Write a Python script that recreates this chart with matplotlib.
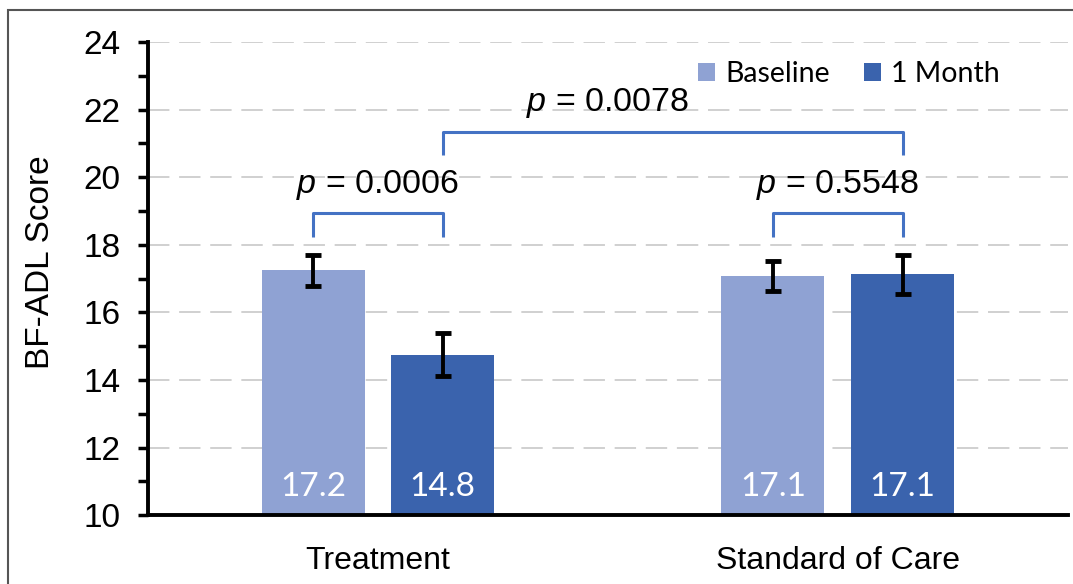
# Bar chart of BF-ADL score: baseline vs 1 month, per group, with p-value brackets

import matplotlib
matplotlib.use("Agg")
import matplotlib.pyplot as plt
import numpy as np

# Data
groups = ["Treatment", "Standard of Care"]
series_names = ["Baseline", "1 Month"]
baseline_vals = [17.24, 17.07]
month_vals = [14.75, 17.13]
baseline_err = [0.47, 0.45]
month_err = [0.64, 0.58]
value_labels = [["17.2", "17.1"], ["14.8", "17.1"]]

# p-value annotations
p_within = ["0.0006", "0.5548"]
p_between = "0.0078"

# Styles
color_base = "#8FA2D3"
color_month = "#3A63AD"
color_bracket = "#4472C4"

plt.rcParams["font.family"] = ["Liberation Sans", "DejaVu Sans"]
plt.rcParams["mathtext.fontset"] = "custom"
plt.rcParams["mathtext.it"] = "Liberation Sans:italic"
plt.rcParams["mathtext.rm"] = "Liberation Sans"

fig = plt.figure(figsize=(10.73, 5.84), dpi=100)
ax = fig.add_axes([0.138, 0.118, 0.857, 0.810])

x = np.arange(len(groups))
width = 0.224
offset = 0.141

x_base = x - offset
x_month = x + offset

# Gridlines behind the bars
ax.set_axisbelow(True)
ax.yaxis.grid(True, color="#D0D0D0", linewidth=1.4, linestyle=(0, (11, 5)))

ax.bar(x_base, baseline_vals, width, bottom=0, color=color_base, label=series_names[0], zorder=2)
ax.bar(x_month, month_vals, width, bottom=0, color=color_month, label=series_names[1], zorder=2)

ax.errorbar(x_base, baseline_vals, yerr=baseline_err, fmt="none", ecolor="black",
            elinewidth=2.8, capsize=6, capthick=3.5, zorder=3)
ax.errorbar(x_month, month_vals, yerr=month_err, fmt="none", ecolor="black",
            elinewidth=2.8, capsize=6, capthick=3.5, zorder=3)

# Value labels inside the bars near the bottom
for i in range(len(groups)):
    ax.text(x_base[i], 10.82, value_labels[0][i], ha="center", va="center",
            color="white", fontsize=24, family=["Lato", "DejaVu Sans"], zorder=4)
    ax.text(x_month[i], 10.82, value_labels[1][i], ha="center", va="center",
            color="white", fontsize=24, family=["Lato", "DejaVu Sans"], zorder=4)

# Brackets
def bracket(x0, x1, y_top, y_leg):
    ax.plot([x0, x0, x1, x1], [y_leg, y_top, y_top, y_leg], color=color_bracket,
            linewidth=2.2, solid_joinstyle="round", solid_capstyle="butt", zorder=3)

for i in range(len(groups)):
    bracket(x_base[i], x_month[i], 18.93, 18.22)
    ax.text((x_base[i] + x_month[i]) / 2, 19.78, "$p$ = " + p_within[i],
            ha="center", va="center", fontsize=24.5)

# between-group bracket; its label sits centred between the two groups
bracket(x_month[0], x_month[1], 21.33, 20.65)
ax.text((x[0] + x[1]) / 2, 22.2, "$p$ = " + p_between,
        ha="center", va="center", fontsize=24.5)

# Axes
ax.set_ylim(10, 24)
ax.set_xlim(-0.5, 1.5)
ax.set_yticks(np.arange(10, 25, 2))
ax.set_yticks(np.arange(10, 25, 1), minor=True)
ax.tick_params(axis="y", which="both", direction="out", length=7, width=2.5,
               labelsize=24, pad=13)
ax.set_xticks(x)
ax.set_xticklabels(groups)
ax.tick_params(axis="x", length=0, labelsize=23, pad=22)
ax.set_ylabel("BF-ADL Score", fontsize=24)
ax.yaxis.set_label_coords(-0.1, 0.535)

for side in ["top", "right"]:
    ax.spines[side].set_visible(False)
ax.spines["left"].set_linewidth(2.8)
ax.spines["bottom"].set_linewidth(2.8)

ax.legend(loc="upper right", bbox_to_anchor=(0.954, 1.015), ncol=2, frameon=False,
          prop={"family": ["Lato", "DejaVu Sans"], "size": 20.5},
          handlelength=0.6, handleheight=0.6, handletextpad=0.35, columnspacing=1.2)

# Thin gray frame around the figure
frame = plt.Rectangle((0.0075, -0.02), 1.1, 1.003, transform=fig.transFigure,
                      fill=False, edgecolor="#555555", linewidth=1.5)
fig.patches.append(frame)

fig.savefig("out.png", dpi=100)
